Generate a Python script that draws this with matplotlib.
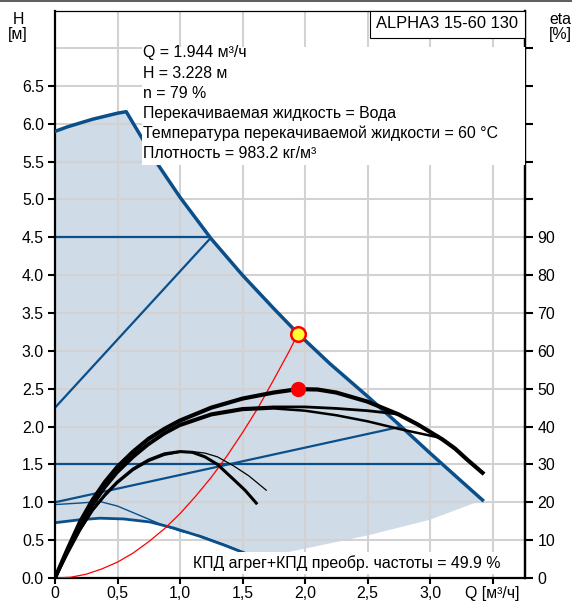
import numpy as np
import matplotlib
matplotlib.use('Agg')
import matplotlib.pyplot as plt
from matplotlib.patches import Rectangle

plt.rcParams['font.family'] = ['Liberation Sans', 'DejaVu Sans']
plt.rcParams['font.size'] = 11.4

# max speed curve (blue, thick)
q_max = [0, 0.1, 0.2, 0.3, 0.4, 0.5, 0.57, 0.7, 0.82, 1.0, 1.25, 1.5, 1.75, 1.944, 2.2, 2.5, 2.75, 3.0, 3.25, 3.42]
h_max = [5.9, 5.96, 6.01, 6.06, 6.1, 6.14, 6.16, 5.8, 5.47, 5.03, 4.48, 4.0, 3.56, 3.228, 2.83, 2.4, 2.03, 1.65, 1.28, 1.03]
# min speed curve
q_min = [0, 0.2, 0.36, 0.55, 0.76, 0.95, 1.16, 1.36, 1.56, 1.75]
h_min = [0.73, 0.77, 0.79, 0.78, 0.74, 0.66, 0.55, 0.43, 0.30, 0.18]
# thin blue curve
q_thin = [0, 0.2, 0.36, 0.5, 0.63, 0.76, 0.89, 1.02, 1.16, 1.36, 1.56, 1.75]
h_thin = [0.97, 0.99, 1.01, 0.95, 0.86, 0.77, 0.68, 0.61, 0.56, 0.44, 0.31, 0.19]
# lower edge of the operating area (right part)
q_edge = [1.56, 1.8, 2.12, 2.52, 3.0, 3.42]
h_edge = [0.30, 0.32, 0.43, 0.57, 0.77, 1.03]

# control lines
ctrl_lines = [
    ([0, 1.25], [4.5, 4.5]),
    ([0, 1.25], [2.25, 4.5]),
    ([0, 3.08], [1.5, 1.5]),
    ([0, 2.77], [1.0, 2.0]),
]

# efficiency curves, eta [%]
qa = [0, 0.1, 0.2, 0.3, 0.4, 0.5, 0.625, 0.75, 0.875, 1.0, 1.25, 1.5, 1.75, 1.944, 2.1, 2.25, 2.5, 2.75, 2.9, 3.0, 3.1, 3.2, 3.3, 3.42]
ea = [0, 7.6, 14.8, 20.6, 25.4, 29.4, 33.4, 36.8, 39.4, 41.6, 45.0, 47.4, 49.0, 49.9, 49.8, 49.0, 46.6, 43.2, 40.6, 38.6, 36.6, 34.2, 31.2, 27.8]
qb = [0, 0.1, 0.2, 0.3, 0.4, 0.5, 0.625, 0.75, 0.875, 1.0, 1.25, 1.5, 1.75, 2.0, 2.25, 2.5, 2.72]
eb = [0, 7.2, 14.0, 19.6, 24.4, 28.4, 32.4, 35.6, 38.4, 40.6, 43.4, 44.8, 45.2, 45.2, 44.8, 44.2, 43.4]
qc = [0, 0.1, 0.2, 0.3, 0.4, 0.5, 0.625, 0.75, 0.875, 1.0, 1.25, 1.5, 1.75, 2.0, 2.25, 2.5, 2.75, 3.06]
ec = [0, 6.8, 13.4, 19.0, 23.8, 27.8, 31.8, 35.2, 38.0, 40.2, 43.0, 44.4, 44.8, 44.2, 43.0, 41.4, 39.4, 37.2]
qd = [0, 0.1, 0.2, 0.3, 0.4, 0.5, 0.625, 0.75, 0.875, 1.0, 1.1, 1.2, 1.3, 1.43, 1.52, 1.61]
ed = [0, 6.6, 12.8, 18.0, 22.0, 25.4, 28.8, 31.2, 32.8, 33.4, 33.2, 32.0, 30.0, 26.0, 23.2, 19.8]
qe = [0, 0.1, 0.2, 0.3, 0.4, 0.5, 0.625, 0.75, 0.875, 1.0, 1.1, 1.2, 1.3, 1.43, 1.55, 1.69]
ee = [0, 6.4, 12.4, 17.6, 21.6, 25.0, 28.4, 30.8, 32.4, 33.2, 33.4, 33.0, 32.0, 29.6, 27.0, 23.2]

# system curve
q_sys = [0, 0.125, 0.25, 0.375, 0.5, 0.625, 0.75, 0.875, 1.0, 1.125, 1.25, 1.375, 1.5, 1.625, 1.75, 1.875, 1.944]
h_sys = [0, 0.01, 0.05, 0.12, 0.21, 0.33, 0.48, 0.65, 0.85, 1.08, 1.33, 1.61, 1.92, 2.25, 2.62, 3.0, 3.228]

q_op, h_op, eta_op = 1.944, 3.228, 49.9

xticks = [0, 0.5, 1.0, 1.5, 2.0, 2.5, 3.0, 3.5]
xlabels = ['0', '0,5', '1,0', '1,5', '2,0', '2,5', '3,0', 'Q [м³/ч]']
yticks = [0.0, 0.5, 1.0, 1.5, 2.0, 2.5, 3.0, 3.5, 4.0, 4.5, 5.0, 5.5, 6.0, 6.5]
eta_ticks = [0, 10, 20, 30, 40, 50, 60, 70, 80, 90, 100, 110, 120, 130, 140]

blue = '#0b4f8a'
shade = '#cfdbe7'

W, H = 572, 601
fig = plt.figure(figsize=(W / 100, H / 100), dpi=100)
ax = fig.add_axes([55 / W, 1 - 578 / H, 470 / W, 567 / H])
xmax, ymax = 3.76, 7.49
ax.set_xlim(0, xmax)
ax.set_ylim(0, ymax)

# grid
for gx in np.arange(0.5, 3.6, 0.5):
    ax.axvline(gx, color='#d2d2d2', lw=1.5, zorder=1)
for gy in np.arange(0.5, 7.1, 0.5):
    ax.axhline(gy, color='#d2d2d2', lw=1.5, zorder=1)

# operating area
poly_q = q_max + q_edge[::-1] + q_min[:9][::-1]
poly_h = h_max + h_edge[::-1] + h_min[:9][::-1]
ax.fill(poly_q, poly_h, color=shade, lw=0, zorder=0.5)

for lq, lh in ctrl_lines:
    ax.plot(lq, lh, color=blue, lw=1.6, zorder=2, solid_capstyle='butt')
ax.plot(q_min, h_min, color=blue, lw=2.0, zorder=2)
ax.plot(q_thin, h_thin, color=blue, lw=1.0, zorder=2)
ax.plot(q_max, h_max, color=blue, lw=2.5, zorder=3)

ax.plot(q_sys, h_sys, color='red', lw=0.9, zorder=4)
ax.plot(q_op, h_op, 'o', ms=10.5, mfc='#ffff33', mec='red', mew=1.8, zorder=6)

ax.set_xticks(xticks)
ax.set_xticklabels(xlabels)
ax.set_yticks(yticks)
ax.set_yticklabels(['%.1f' % v for v in yticks])
ax.tick_params(axis='x', direction='out', length=4, width=1.5, pad=2)
ax.tick_params(axis='y', direction='out', length=5, width=1.5, pad=3)
for s in ['left', 'bottom', 'right']:
    ax.spines[s].set_linewidth(1.6)
ax.spines['top'].set_linewidth(0.9)

# eta axis
ax2 = ax.twinx()
ax2.set_position(ax.get_position())
ax2.set_ylim(0, ymax * 20)
ax2.set_yticks(eta_ticks)
ax2.set_yticklabels([str(v) if v < 100 else '' for v in eta_ticks])
ax2.tick_params(axis='y', direction='out', length=6, width=1.5, pad=3)
for s in ['left', 'bottom', 'top']:
    ax2.spines[s].set_visible(False)
ax2.spines['right'].set_linewidth(1.6)

ax2.plot(qa, ea, color='black', lw=3.0, zorder=3)
ax2.plot(qb, eb, color='black', lw=2.0, zorder=3)
ax2.plot(qc, ec, color='black', lw=1.8, zorder=3)
ax2.plot(qd, ed, color='black', lw=2.2, zorder=3)
ax2.plot(qe, ee, color='black', lw=0.9, zorder=3)
ax2.plot(q_op, eta_op, 'o', ms=10, color='red', zorder=5)

# white box behind the info text
ax2.add_patch(Rectangle(((142 - 55) / 125, (578 - 165) / 75.7 * 20),
                        xmax - (142 - 55) / 125, (165 - 47) / 75.7 * 20,
                        facecolor='white', edgecolor='none', zorder=8))
info = ['Q = 1.944 м³/ч', 'H = 3.228 м', 'n = 79 %',
        'Перекачиваемая жидкость = Вода',
        'Температура перекачиваемой жидкости = 60 °C',
        'Плотность = 983.2 кг/м³']
for i, line in enumerate(info):
    fig.text(143 / W, 1 - (53 + 20 * i) / H, line, ha='left', va='center', zorder=10)

# title box
ax2.add_patch(Rectangle(((370 - 55) / 125, (578 - 38) / 75.7 * 20),
                        xmax - (370 - 55) / 125, 27 / 75.7 * 20,
                        facecolor='white', edgecolor='black', lw=0.8, zorder=8, clip_on=False))
fig.text(447 / W, 1 - 24 / H, 'ALPHA3 15-60 130', ha='center', va='center', zorder=10, fontsize=11.9)

# efficiency note
fig.text(193 / W, 1 - 563 / H, 'КПД агрег+КПД преобр. частоты = 49.9 %', ha='left', va='center',
         zorder=10, bbox=dict(facecolor='white', edgecolor='none', pad=2))

fig.text(18 / W, 1 - 19 / H, 'H', ha='center', va='center')
fig.text(18 / W, 1 - 34 / H, '[м]', ha='center', va='center')
fig.text(549 / W, 1 - 19 / H, 'eta', ha='left', va='center')
fig.text(549 / W, 1 - 34 / H, '[%]', ha='left', va='center')

fig.patches.append(Rectangle((0, 1 - 2 / H), 1, 2 / H, transform=fig.transFigure,
                             facecolor='#606060', edgecolor='none', figure=fig))

fig.savefig('out.png', dpi=100)
